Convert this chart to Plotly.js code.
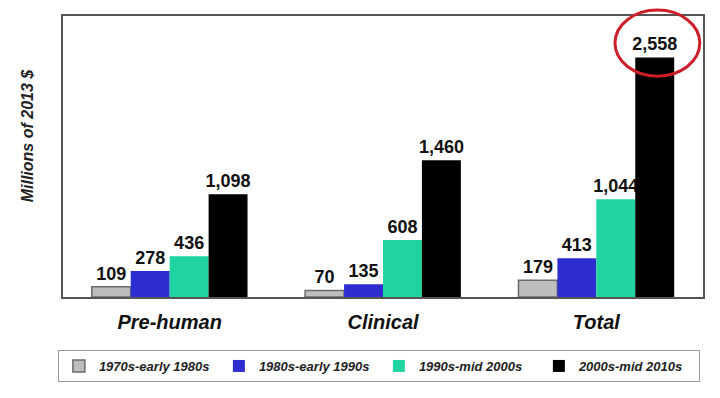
<!DOCTYPE html>
<html>
<head>
<meta charset="utf-8">
<script src="https://cdn.plot.ly/plotly-3.0.1.min.js"></script>
<style>html,body{margin:0;padding:0;background:#fff;}#chart{width:720px;height:398px;}</style>
</head>
<body>
<div id="chart"></div>
<script>
const categories = ["Pre-human", "Clinical", "Total"];
const seriesNames = ["1970s-early 1980s", "1980s-early 1990s", "1990s-mid 2000s", "2000s-mid 2010s"];
const v1970s = [109, 70, 179];
const v1980s = [278, 135, 413];
const v1990s = [436, 608, 1044];
const v2000s = [1098, 1460, 2558];
const seriesColors = ["#bdbdbd", "#2e2ed0", "#1fd4a0", "#000000"];
const seriesLines = ["#6a6a6a", "#2e2ed0", "#1fd4a0", "#000000"];

const allValues = [v1970s, v1980s, v1990s, v2000s];
const font = "Liberation Sans, Arial, sans-serif";

const traces = allValues.map((vals, i) => ({
  type: "bar",
  name: seriesNames[i],
  x: categories,
  y: vals,
  marker: {color: seriesColors[i], line: {color: seriesLines[i], width: i === 0 ? 1.5 : 0}},
  text: vals.map(v => v.toLocaleString("en-US")),
  textposition: "outside",
  constraintext: "none",
  textfont: {family: font, size: 18, weight: "bold", color: "#111"},
  cliponaxis: false,
  hoverinfo: "skip"
}));

const layout = {
  width: 720, height: 398,
  margin: {l: 63, r: 17, t: 16, b: 101},
  paper_bgcolor: "#fff", plot_bgcolor: "#fff",
  barmode: "group", bargap: 0.27, bargroupgap: 0,
  xaxis: {
    type: "category",
    showline: true, linecolor: "#555", linewidth: 2, mirror: true,
    ticks: "outside", ticklen: 6, tickcolor: "rgba(0,0,0,0)",
    tickfont: {family: font, size: 20, weight: "bold", style: "italic", color: "#111"},
    showgrid: false
  },
  yaxis: {
    range: [0, 3000],
    showline: true, linecolor: "#555", linewidth: 2, mirror: true,
    showticklabels: false, ticks: "", showgrid: false, zeroline: false
  },
  showlegend: true,
  legend: {
    orientation: "h",
    x: -0.008, xanchor: "left",
    y: -0.1886, yanchor: "top",
    bgcolor: "#fff", bordercolor: "#999", borderwidth: 1,
    font: {family: font, size: 13, weight: "bold", style: "italic", color: "#222"},
    entrywidth: 115, entrywidthmode: "pixels",
    traceorder: "normal"
  },
  annotations: [{
    xref: "paper", yref: "paper",
    x: -0.056, xanchor: "center", y: 0.576, yanchor: "middle",
    text: "Millions of 2013 $",
    textangle: -90, showarrow: false,
    font: {family: font, size: 16, weight: "bold", style: "italic", color: "#222"}
  }],
  shapes: [{
    type: "circle", xref: "paper", yref: "paper",
    x0: 0.8625, x1: 0.995, y0: 0.786, y1: 1.021,
    line: {color: "#cc1f2a", width: 3}
  }]
};

Plotly.newPlot("chart", traces, layout, {displayModeBar: false, staticPlot: true});
</script>
</body>
</html>
